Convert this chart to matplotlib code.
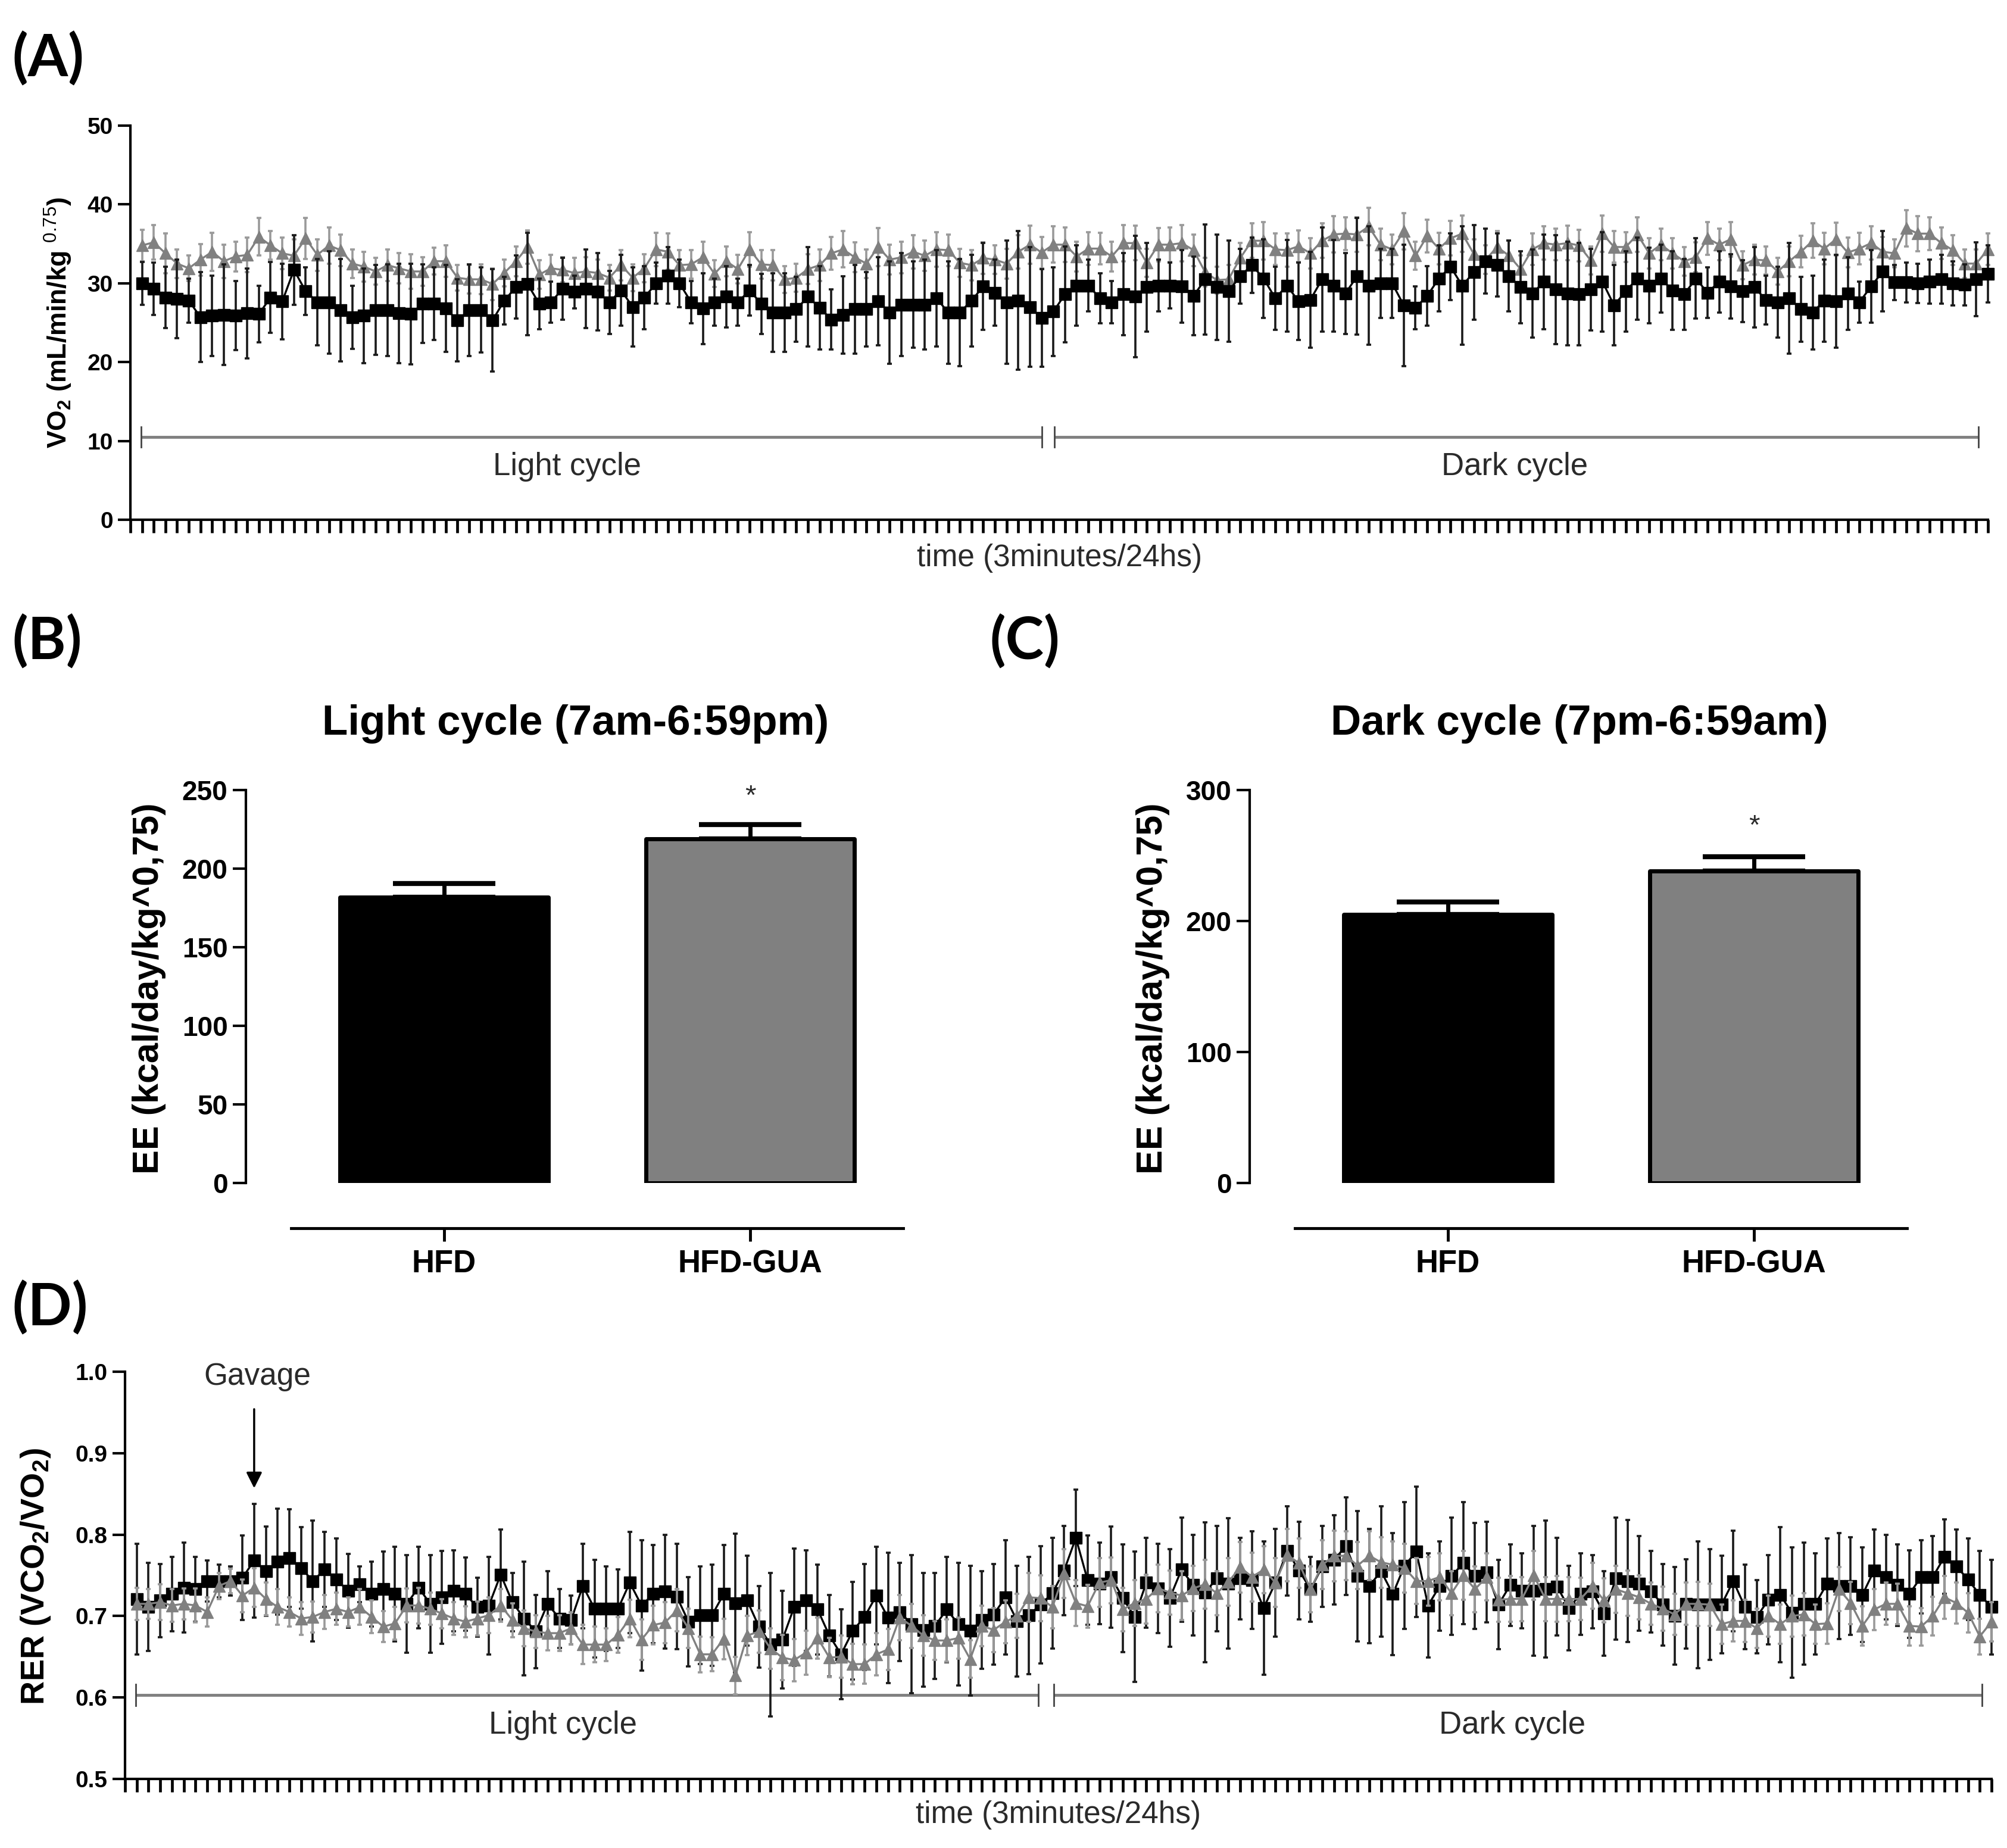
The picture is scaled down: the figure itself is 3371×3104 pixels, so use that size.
import numpy as np
import matplotlib
matplotlib.use("Agg")
import matplotlib.pyplot as plt

plt.rcParams['font.family'] = ['Liberation Sans', 'DejaVu Sans']
plt.rcParams['mathtext.fontset'] = 'custom'
plt.rcParams['mathtext.rm'] = 'Liberation Sans'
plt.rcParams['mathtext.bf'] = 'Liberation Sans:bold'
plt.rcParams['mathtext.it'] = 'Liberation Sans:italic'

# ---------------- Panel A : VO2 ----------------
vo2_hfd = [30.0, 29.3, 28.2, 28.0, 27.8, 25.7, 25.9, 26.0, 25.9, 26.2,
           26.1, 28.2, 27.7, 31.7, 29.0, 27.6, 27.6, 26.6, 25.7, 25.9,
           26.6, 26.6, 26.2, 26.1, 27.4, 27.4, 26.8, 25.3, 26.6, 26.6,
           25.3, 27.8, 29.5, 29.9, 27.4, 27.6, 29.3, 28.9, 29.3, 28.9,
           27.6, 29.1, 27.0, 28.2,
           30.0, 31.0, 30.0, 27.6, 26.8, 27.6, 28.3, 27.6, 29.1, 27.4,
           26.3, 26.3, 26.7, 28.3, 26.9, 25.4, 26.0, 26.7, 26.7, 27.7,
           26.3, 27.3, 27.3, 27.3, 28.1, 26.3, 26.3, 27.8, 29.6, 28.8,
           27.6, 27.8, 27.0, 25.6, 26.4, 28.6, 29.7, 29.7, 28.1, 27.6,
           28.6, 28.3, 29.5, 29.7, 29.7, 29.6, 28.4, 30.5, 29.5, 29.0,
           30.9, 32.3, 30.6, 28.1, 29.7,
           27.7, 27.9, 30.5, 29.7, 28.7, 30.9, 29.7, 30.0, 30.0, 27.2,
           26.9, 28.4, 30.6, 32.1, 29.7, 31.4, 32.8, 32.3, 30.9, 29.5,
           28.7, 30.2, 29.2, 28.7, 28.6, 29.2, 30.2, 27.2, 29.0, 30.6,
           29.7, 30.6, 29.1, 28.6, 30.6, 28.8, 30.2, 29.6, 29.0, 29.5,
           27.9, 27.6, 28.1, 26.7, 26.3, 27.8, 27.7, 28.7, 27.6, 29.6,
           31.5, 30.1, 30.1, 30.0, 30.2, 30.5, 30.0, 29.8, 30.5, 31.2]
vo2_hfd_sem = [2.7, 3.3, 3.9, 5.0, 2.8, 5.7, 5.1, 6.4, 4.4, 5.7,
               3.6, 4.5, 4.8, 4.4, 3.0, 5.5, 6.5, 6.5, 4.0, 6.0,
               5.7, 5.8, 6.3, 6.4, 5.0, 4.6, 5.5, 5.2, 5.8, 5.4,
               6.5, 3.0, 4.0, 6.5, 3.2, 2.6, 3.9, 2.1, 5.0, 4.9,
               4.0, 4.5, 5.0, 4.0,
               2.6, 3.6, 3.0, 2.7, 4.5, 3.0, 3.9, 3.0, 3.2, 3.8,
               5.0, 5.0, 4.1, 6.3, 5.3, 3.8, 4.9, 5.6, 4.7, 5.6,
               6.5, 6.5, 5.5, 5.7, 6.1, 6.5, 6.8, 5.8, 5.5, 4.2,
               7.8, 8.8, 7.6, 6.2, 5.6, 6.1, 5.1, 3.3, 3.2, 2.7,
               5.2, 7.7, 5.6, 3.3, 2.9, 4.6, 5.0, 7.0, 6.7, 6.4,
               3.5, 3.5, 5.0, 4.0, 5.8,
               4.9, 6.1, 6.6, 5.8, 5.1, 7.4, 7.5, 4.4, 4.4, 7.7,
               2.7, 3.8, 4.2, 4.2, 7.5, 6.0, 4.1, 4.0, 4.5, 4.6,
               5.6, 6.0, 6.9, 6.6, 6.5, 5.2, 6.3, 5.1, 5.1, 5.2,
               4.8, 4.3, 5.0, 4.5, 5.1, 3.2, 3.9, 4.1, 3.9, 5.1,
               3.1, 4.5, 7.0, 4.1, 4.7, 5.2, 5.9, 4.6, 2.6, 4.6,
               5.1, 2.2, 2.5, 2.5, 2.8, 3.1, 2.8, 2.6, 4.7, 3.6]
vo2_gua = [34.8, 35.2, 33.8, 32.5, 31.9, 33.0, 34.0, 32.8, 33.4, 33.6,
           35.9, 34.8, 33.8, 33.5, 35.7, 33.6, 34.8, 34.2, 32.5, 32.1,
           31.5, 32.3, 31.9, 31.5, 31.5, 32.8, 32.8, 30.7, 30.5, 30.5,
           29.9, 31.3, 32.8, 34.6, 31.1, 31.9, 31.7, 31.3, 31.5, 31.3,
           30.7, 32.3, 30.7, 31.9,
           34.3, 34.0, 32.3, 32.4, 33.3, 31.2, 32.8, 31.8, 34.3, 32.4,
           32.3, 30.5, 30.7, 31.8, 32.3, 33.8, 34.3, 33.3, 32.5, 34.6,
           33.0, 33.3, 34.0, 33.5, 34.3, 34.2, 32.6, 32.3, 33.2, 33.0,
           32.5, 34.0, 34.9, 33.9, 34.9, 34.9, 33.4, 34.4, 34.4, 33.4,
           35.1, 35.1, 32.6, 34.9, 34.9, 35.1, 34.2, 31.4, 30.4, 30.5,
           33.2, 35.4, 35.4, 34.3, 34.2,
           34.7, 33.8, 35.4, 36.2, 36.3, 36.2, 37.2, 34.9, 34.3, 36.6,
           33.5, 36.0, 34.4, 35.7, 36.3, 33.7, 33.0, 34.6, 33.5, 31.8,
           34.3, 35.1, 34.9, 35.1, 34.8, 32.9, 36.3, 34.6, 34.6, 36.2,
           33.8, 34.9, 33.8, 32.8, 33.3, 35.7, 34.9, 35.6, 32.3, 33.0,
           32.9, 31.5, 32.8, 34.0, 35.4, 34.4, 35.6, 33.9, 34.4, 35.1,
           34.0, 33.8, 37.0, 36.3, 36.3, 35.1, 34.2, 32.5, 32.5, 34.3]
vo2_gua_sem = [2.0, 2.2, 2.5, 1.8, 1.6, 2.0, 2.4, 2.1, 1.9, 2.2,
               2.4, 1.8, 2.0, 2.1, 2.6, 2.0, 2.3, 2.0, 1.8, 1.9,
               1.7, 2.0, 1.9, 2.2, 1.8, 1.7, 2.0, 1.6, 1.8, 1.9,
               2.0, 1.7, 1.9, 2.1, 1.8, 1.7, 1.6, 1.9, 1.8, 1.7,
               1.6, 1.9, 1.7, 1.8,
               2.1, 2.3, 1.9, 1.8, 2.0, 1.7, 1.9, 1.8, 2.2, 1.8,
               1.9, 1.7, 1.8, 1.9, 2.0, 2.1, 2.3, 1.9, 1.8, 2.4,
               1.9, 2.0, 2.1, 1.9, 2.2, 2.0, 1.8, 1.9, 2.0, 1.8,
               1.9, 2.1, 2.4, 2.0, 2.3, 2.2, 1.9, 2.1, 2.0, 1.9,
               2.3, 2.2, 1.8, 2.1, 2.2, 2.3, 2.0, 1.8, 1.7, 1.8,
               1.9, 2.2, 2.4, 2.0, 2.1,
               2.0, 1.9, 2.2, 2.3, 2.1, 2.2, 2.4, 2.0, 1.9, 2.3,
               1.8, 2.1, 2.0, 2.2, 2.3, 1.9, 1.8, 2.0, 1.9, 1.7,
               2.0, 2.1, 2.0, 2.2, 2.0, 1.8, 2.3, 2.0, 1.9, 2.2,
               1.9, 2.0, 1.9, 1.8, 1.9, 2.1, 2.0, 2.2, 1.8, 1.9,
               1.8, 1.7, 1.9, 2.0, 2.2, 2.0, 2.1, 1.9, 2.0, 2.1,
               1.9, 1.8, 2.3, 2.2, 2.1, 2.0, 1.9, 1.8, 1.8, 2.0]

# ---------------- Panel D : RER ----------------
rer_hfd = [0.721, 0.711, 0.719, 0.727, 0.735, 0.733, 0.743, 0.743, 0.743, 0.747,
           0.768, 0.755, 0.767, 0.771, 0.759, 0.743, 0.757, 0.745, 0.731, 0.739,
           0.727, 0.733, 0.727, 0.715, 0.735, 0.715, 0.723, 0.731, 0.727, 0.711,
           0.713, 0.751, 0.717, 0.697, 0.681, 0.715, 0.697, 0.695, 0.737, 0.709,
           0.709, 0.709, 0.741, 0.713, 0.727,
           0.730, 0.724, 0.693, 0.701, 0.701, 0.727, 0.716, 0.719, 0.687, 0.665,
           0.671, 0.711, 0.719, 0.708, 0.676, 0.653, 0.682, 0.699, 0.725, 0.698,
           0.705, 0.690, 0.683, 0.688, 0.708, 0.690, 0.682, 0.695, 0.702, 0.723,
           0.694, 0.701, 0.714, 0.728, 0.756, 0.796, 0.744, 0.740, 0.748, 0.722,
           0.699, 0.741, 0.734, 0.722, 0.757, 0.738, 0.729, 0.746, 0.740, 0.746,
           0.744, 0.710, 0.741, 0.780, 0.756,
           0.733, 0.761, 0.769, 0.786, 0.749, 0.737, 0.755, 0.727, 0.762,
           0.779, 0.713, 0.737, 0.749, 0.765, 0.749, 0.754, 0.714, 0.738, 0.731,
           0.731, 0.733, 0.736, 0.710, 0.727, 0.730, 0.703, 0.746, 0.743, 0.740,
           0.730, 0.714, 0.700, 0.715, 0.714, 0.714, 0.714, 0.743, 0.711, 0.699,
           0.720, 0.726, 0.704, 0.715, 0.715, 0.740, 0.737, 0.737, 0.726, 0.756,
           0.748, 0.738, 0.727, 0.748, 0.748, 0.773, 0.761, 0.745, 0.726, 0.711]
rer_hfd_sem = [0.068, 0.054, 0.045, 0.046, 0.055, 0.040, 0.025, 0.020, 0.018, 0.052,
               0.070, 0.055, 0.065, 0.060, 0.050, 0.074, 0.046, 0.050, 0.045, 0.022,
               0.040, 0.046, 0.058, 0.060, 0.050, 0.060, 0.057, 0.050, 0.045, 0.036,
               0.060, 0.055, 0.036, 0.070, 0.045, 0.040, 0.036, 0.030, 0.052, 0.060,
               0.052, 0.048, 0.062, 0.080, 0.060,
               0.070, 0.065, 0.055, 0.060, 0.062, 0.060, 0.085, 0.055, 0.050, 0.088,
               0.060, 0.072, 0.062, 0.055, 0.050, 0.055, 0.060, 0.065, 0.060, 0.080,
               0.060, 0.085, 0.070, 0.065, 0.065, 0.075, 0.080, 0.060, 0.062, 0.070,
               0.068, 0.072, 0.072, 0.068, 0.055, 0.059, 0.055, 0.050, 0.062, 0.066,
               0.080, 0.055, 0.055, 0.060, 0.064, 0.062, 0.086, 0.065, 0.080, 0.050,
               0.060, 0.082, 0.066, 0.055, 0.060,
               0.040, 0.050, 0.055, 0.060, 0.080, 0.070, 0.080, 0.075, 0.078,
               0.080, 0.064, 0.055, 0.072, 0.075, 0.065, 0.062, 0.055, 0.050, 0.046,
               0.080, 0.084, 0.060, 0.052, 0.050, 0.045, 0.052, 0.075, 0.075, 0.058,
               0.050, 0.050, 0.060, 0.055, 0.078, 0.068, 0.060, 0.062, 0.052, 0.045,
               0.055, 0.083, 0.080, 0.075, 0.062, 0.055, 0.065, 0.060, 0.058, 0.050,
               0.052, 0.050, 0.054, 0.045, 0.050, 0.046, 0.045, 0.050, 0.054, 0.058]
rer_gua = [0.715, 0.715, 0.717, 0.713, 0.715, 0.713, 0.705, 0.737, 0.743, 0.725,
           0.735, 0.721, 0.711, 0.705, 0.697, 0.699, 0.705, 0.709, 0.705, 0.711,
           0.699, 0.687, 0.691, 0.713, 0.713, 0.709, 0.703, 0.697, 0.693, 0.697,
           0.701, 0.713, 0.695, 0.685, 0.681, 0.679, 0.679, 0.685, 0.665, 0.665,
           0.665, 0.677, 0.697, 0.671, 0.689,
           0.692, 0.707, 0.685, 0.653, 0.653, 0.672, 0.627, 0.676, 0.681, 0.660,
           0.649, 0.646, 0.655, 0.673, 0.649, 0.650, 0.641, 0.641, 0.653, 0.659,
           0.698, 0.688, 0.676, 0.670, 0.670, 0.673, 0.647, 0.688, 0.683, 0.693,
           0.700, 0.723, 0.722, 0.711, 0.752, 0.716, 0.712, 0.741, 0.744, 0.708,
           0.716, 0.721, 0.734, 0.729, 0.725, 0.734, 0.739, 0.728, 0.742, 0.760,
           0.748, 0.757, 0.741, 0.775, 0.765,
           0.733, 0.763, 0.774, 0.774, 0.762, 0.774, 0.766, 0.763, 0.759,
           0.743, 0.743, 0.748, 0.728, 0.750, 0.733, 0.748, 0.720, 0.721, 0.721,
           0.750, 0.721, 0.721, 0.721, 0.721, 0.737, 0.719, 0.733, 0.728, 0.723,
           0.715, 0.709, 0.702, 0.715, 0.715, 0.714, 0.690, 0.694, 0.694, 0.685,
           0.700, 0.690, 0.700, 0.702, 0.690, 0.691, 0.733, 0.716, 0.688, 0.708,
           0.715, 0.715, 0.688, 0.687, 0.700, 0.723, 0.716, 0.704, 0.675, 0.693]
rer_gua_sem = [0.020, 0.018, 0.022, 0.020, 0.019, 0.021, 0.018, 0.016, 0.015, 0.020,
               0.024, 0.020, 0.022, 0.018, 0.020, 0.019, 0.021, 0.020, 0.018, 0.022,
               0.020, 0.019, 0.020, 0.021, 0.022, 0.020, 0.018, 0.020, 0.019, 0.021,
               0.022, 0.020, 0.021, 0.022, 0.020, 0.021, 0.022, 0.020, 0.024, 0.022,
               0.020, 0.022, 0.023, 0.025, 0.024,
               0.025, 0.026, 0.024, 0.022, 0.021, 0.025, 0.023, 0.024, 0.026, 0.025,
               0.028, 0.026, 0.027, 0.025, 0.024, 0.026, 0.025, 0.024, 0.026, 0.025,
               0.028, 0.027, 0.025, 0.024, 0.026, 0.025, 0.023, 0.025, 0.027, 0.026,
               0.027, 0.030, 0.028, 0.026, 0.030, 0.028, 0.026, 0.030, 0.028, 0.027,
               0.028, 0.030, 0.029, 0.027, 0.030, 0.028, 0.030, 0.027, 0.029, 0.031,
               0.030, 0.029, 0.030, 0.032, 0.030,
               0.028, 0.030, 0.031, 0.030, 0.029, 0.030, 0.031, 0.029, 0.030,
               0.028, 0.030, 0.029, 0.027, 0.030, 0.028, 0.029, 0.027, 0.028, 0.027,
               0.030, 0.027, 0.028, 0.027, 0.026, 0.028, 0.027, 0.029, 0.028, 0.027,
               0.026, 0.027, 0.025, 0.026, 0.027, 0.026, 0.024, 0.025, 0.026, 0.024,
               0.025, 0.024, 0.025, 0.026, 0.024, 0.025, 0.027, 0.026, 0.024, 0.025,
               0.026, 0.025, 0.024, 0.023, 0.024, 0.026, 0.025, 0.024, 0.022, 0.024]

# ---------------- Panels B / C : EE ----------------
groups = ['HFD', 'HFD-GUA']
ee_light = [182, 219]
ee_light_sem = [8.5, 9.0]
ee_dark = [205, 238]
ee_dark_sem = [9.5, 11.0]

BLACK = '#000000'
GREY = '#808080'
GREY_ERR = '#9a9a9a'
TXT = '#2a2a2a'

W, H = 3371, 3104
fig = plt.figure(figsize=(W / 100, H / 100), dpi=100)


def fax(l, t, r, b):
    return fig.add_axes([l / W, 1 - b / H, (r - l) / W, (b - t) / H])


def style_time_axis(ax, xmax):
    for s in ['top', 'right']:
        ax.spines[s].set_visible(False)
    for s in ['left', 'bottom']:
        ax.spines[s].set_linewidth(3)
    ax.set_xlim(0, xmax)
    ax.set_xticks(np.arange(0, xmax + 1))
    ax.set_xticklabels([])
    ax.tick_params(axis='x', direction='out', length=16, width=3.4)
    ax.tick_params(axis='y', direction='out', length=15, width=3,
                   labelsize=28, pad=6)
    for lab in ax.get_yticklabels():
        lab.set_fontweight('bold')


def draw_series(ax, x, y, e, marker, color, ecolor, z, ms):
    ax.errorbar(x, y, yerr=e, fmt='-', marker=marker, color=color,
                markerfacecolor=color, markeredgecolor=color, ms=ms, lw=2.4,
                elinewidth=2.6, ecolor=ecolor, capsize=3, capthick=2.6,
                zorder=z, clip_on=False)


def bracket(ax, x0, x1, y, d):
    ax.plot([x0, x1], [y, y], color=GREY, lw=3.5, solid_capstyle='butt', zorder=1)
    for xx in (x0, x1):
        ax.plot([xx, xx], [y - d, y + d], color='#444444', lw=2, zorder=1)


# ---------- A ----------
n = len(vo2_hfd)
x = np.arange(1, n + 1)
axA = fax(219, 211, 3339, 873)
draw_series(axA, x, vo2_gua, vo2_gua_sem, '^', GREY, GREY_ERR, 3, 15)
draw_series(axA, x, vo2_hfd, vo2_hfd_sem, 's', BLACK, '#1a1a1a', 4, 14)
axA.set_ylim(0, 50)
axA.set_yticks([0, 10, 20, 30, 40, 50])
style_time_axis(axA, n)
bracket(axA, 0.9, 78.0, 10.5, 1.3)
bracket(axA, 79.1, 158.2, 10.5, 1.3)
axA.text(37.4, 6.7, 'Light cycle', ha='center', va='center', fontsize=38, color=TXT)
axA.text(118.5, 6.7, 'Dark cycle', ha='center', va='center', fontsize=38, color=TXT)
axA.text(0.5, -0.097, 'time (3minutes/24hs)', transform=axA.transAxes,
         ha='center', va='center', fontsize=37, color=TXT)
axA.text(-0.0388, 0.5, r'VO$_{\mathbf{2}}$ (mL/min/kg $^{\mathrm{0.75}}$)',
         transform=axA.transAxes, rotation=90, ha='center', va='center',
         fontsize=32, fontweight='bold')

# ---------- D ----------
axD = fax(210, 2304, 3345, 2988)
draw_series(axD, x, rer_hfd, rer_hfd_sem, 's', BLACK, '#1a1a1a', 3, 14)
draw_series(axD, x, rer_gua, rer_gua_sem, '^', GREY, GREY_ERR, 4, 15)
axD.set_ylim(0.5, 1.0)
axD.set_yticks([0.5, 0.6, 0.7, 0.8, 0.9, 1.0])
axD.set_yticklabels(['0.5', '0.6', '0.7', '0.8', '0.9', '1.0'])
style_time_axis(axD, n)
bracket(axD, 0.9, 77.8, 0.603, 0.013)
bracket(axD, 79.1, 158.2, 0.603, 0.013)
axD.text(37.3, 0.566, 'Light cycle', ha='center', va='center', fontsize=38, color=TXT)
axD.text(118.2, 0.566, 'Dark cycle', ha='center', va='center', fontsize=38, color=TXT)
axD.text(0.5, -0.089, 'time (3minutes/24hs)', transform=axD.transAxes,
         ha='center', va='center', fontsize=37, color=TXT)
axD.text(-0.048, 0.497, r'RER (VCO$_{\mathbf{2}}$/VO$_{\mathbf{2}}$)',
         transform=axD.transAxes, rotation=90, ha='center', va='center',
         fontsize=40, fontweight='bold')
axD.text(11.3, 0.994, 'Gavage', ha='center', va='center', fontsize=37,
         color=TXT, clip_on=False)
axD.annotate('', xy=(11.0, 0.857), xytext=(11.0, 0.954),
             arrowprops=dict(arrowstyle='-|>', color='black', lw=2.5,
                             mutation_scale=40, shrinkA=0, shrinkB=0))


# ---------- B / C ----------
def bar_panel(ax, vals, sems, ymax, step, title):
    pos = np.arange(len(groups))
    colors = [BLACK, GREY]
    ax.bar(pos, vals, width=0.68, color=colors, edgecolor='black',
           linewidth=5, joinstyle='round', zorder=2)
    for p, v, s in zip(pos, vals, sems):
        ax.errorbar([p], [v], yerr=[[0], [s]], fmt='none', ecolor='black',
                    elinewidth=5, capsize=62, capthick=6, zorder=1)
    ax.set_xlim(-0.648, 1.506)
    ax.set_ylim(0, ymax)
    ax.set_yticks(np.arange(0, ymax + 1, step))
    for s in ['top', 'right']:
        ax.spines[s].set_visible(False)
    ax.spines['left'].set_linewidth(3)
    ax.spines['bottom'].set_linewidth(3.5)
    ax.spines['bottom'].set_position(('outward', 55))
    ax.spines['bottom'].set_bounds(-0.5, 1.5)
    ax.set_xticks(pos)
    ax.set_xticklabels(groups)
    ax.tick_params(axis='x', direction='out', length=16, width=3.5,
                   labelsize=38, pad=9)
    ax.tick_params(axis='y', direction='out', length=16, width=3,
                   labelsize=33, pad=6)
    for lab in ax.get_xticklabels() + ax.get_yticklabels():
        lab.set_fontweight('bold')
    ax.text(0.5, 1.168, title, transform=ax.transAxes, ha='center',
            va='center', fontsize=51, fontweight='bold')
    ax.text(-0.147, 0.495, 'EE (kcal/day/kg^0,75)', transform=ax.transAxes,
            rotation=90, ha='center', va='center', fontsize=44,
            fontweight='bold')


axB = fax(413, 1327, 1520, 1987)
bar_panel(axB, ee_light, ee_light_sem, 250, 50, 'Light cycle (7am-6:59pm)')
axB.text(1, 245.5, '*', ha='center', va='center', fontsize=34, color=TXT)

axC = fax(2099, 1327, 3206, 1987)
bar_panel(axC, ee_dark, ee_dark_sem, 300, 100, 'Dark cycle (7pm-6:59am)')
axC.text(1, 272, '*', ha='center', va='center', fontsize=34, color=TXT)

# ---------- panel letters ----------
for lx, ly, lab in [(20, 98, '(A)'), (20, 1077, '(B)'),
                    (1662, 1077, '(C)'), (20, 2196, '(D)')]:
    fig.text(lx / W, 1 - ly / H, lab, ha='left', va='center', fontsize=70,
             fontweight='bold', family=['Lato', 'Liberation Sans', 'DejaVu Sans'])

fig.savefig('out.png', dpi=100, facecolor='white')
